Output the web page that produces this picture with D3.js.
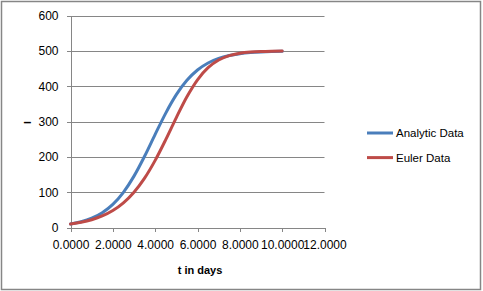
<!DOCTYPE html>
<html>
<head>
<meta charset="utf-8">
<style>
html, body { margin: 0; padding: 0; background: #fff; }
svg { display: block; font-family: "Liberation Sans", Arial, sans-serif; }
.grid line { stroke: #868686; stroke-width: 1; }
.axis path, .axis line { stroke: #868686; shape-rendering: crispEdges; }
.axis text { fill: #000; font-size: 12px; }
</style>
</head>
<body>
<script src="https://cdn.jsdelivr.net/npm/d3@7"></script>
<script>
var width = 483
var height = 291

// t in days, step 0.5
var tDays = [0, 0.5, 1, 1.5, 2, 2.5, 3, 3.5, 4, 4.5, 5, 5.5, 6, 6.5, 7, 7.5, 8, 8.5, 9, 9.5, 10]
var analytic = [10, 16.3, 26.3, 41.9, 65.5, 99.6, 145.4, 201.6, 263.5, 323.8, 375.9, 416.6, 445.8, 465.7, 478.6, 486.8, 491.9, 495.1, 497.0, 498.2, 498.9]
var euler = [10, 14.9, 22.1, 32.7, 48.0, 69.7, 99.7, 139.6, 189.9, 248.7, 311.2, 370.0, 418.1, 452.3, 473.9, 486.3, 492.9, 496.4, 498.2, 499.1, 499.5]

var xTicks = [0, 2, 4, 6, 8, 10, 12]
var yTicks = [0, 100, 200, 300, 400, 500, 600]

var series = [
    { name: 'Analytic Data', values: analytic, color: '#4a7ebb' },
    { name: 'Euler Data', values: euler, color: '#be4b48' }
]

var svg = d3.select('body').append('svg')
    .attr('width', width)
    .attr('height', height)

// outer chart border
svg.append('rect')
    .attr('x', 1.5).attr('y', 1.5)
    .attr('width', 479).attr('height', 288)
    .attr('fill', '#fff')
    .attr('stroke', '#868686')
    .attr('stroke-width', 1.5)

var x = d3.scaleLinear().domain([0, 12]).range([70.5, 324.5])
var y = d3.scaleLinear().domain([0, 600]).range([227.5, 15.5])

// horizontal gridlines
svg.append('g').attr('class', 'grid')
    .selectAll('line')
    .data(yTicks.slice(1))
    .enter().append('line')
    .attr('x1', x(0)).attr('x2', x(12))
    .attr('y1', function (d) { return Math.round(y(d)) + 0.5 })
    .attr('y2', function (d) { return Math.round(y(d)) + 0.5 })

var yAxis = svg.append('g')
    .attr('class', 'axis')
    .attr('transform', 'translate(' + x(0) + ',0)')
    .call(d3.axisLeft(y).tickValues(yTicks).tickSize(4).tickPadding(8).tickSizeOuter(0).tickFormat(d3.format('d')))
yAxis.selectAll('text').attr('font-family', null).attr('font-size', null)

var xAxis = svg.append('g')
    .attr('class', 'axis')
    .attr('transform', 'translate(0,' + y(0) + ')')
    .call(d3.axisBottom(x).tickValues(xTicks).tickSize(4).tickPadding(9).tickSizeOuter(0).tickFormat(d3.format('.4f')))
xAxis.selectAll('text').attr('font-family', null).attr('font-size', null)
svg.selectAll('.axis').attr('font-family', null).attr('font-size', null)

// axis titles
svg.append('text')
    .attr('x', 200).attr('y', 274)
    .attr('text-anchor', 'middle')
    .attr('font-size', '11px')
    .attr('font-weight', 'bold')
    .text('t in days')

svg.append('text')
    .attr('x', 27.5).attr('y', 126.5)
    .attr('text-anchor', 'middle')
    .attr('font-size', '14px')
    .attr('font-weight', 'bold')
    .text('–')

var line = d3.line()
    .x(function (d, i) { return x(tDays[i]) })
    .y(function (d) { return y(d) })
    .curve(d3.curveMonotoneX)

svg.append('g').selectAll('path')
    .data(series)
    .enter().append('path')
    .attr('d', function (s) { return line(s.values) })
    .attr('fill', 'none')
    .attr('stroke', function (s) { return s.color })
    .attr('stroke-width', 3)
    .attr('stroke-linecap', 'round')

// legend
var legend = svg.append('g').selectAll('g')
    .data(series)
    .enter().append('g')
    .attr('transform', function (s, i) { return 'translate(367,' + (133 + i * 24.6) + ')' })

legend.append('line')
    .attr('x1', 0).attr('x2', 26)
    .attr('stroke', function (s) { return s.color })
    .attr('stroke-width', 3)

legend.append('text')
    .attr('x', 29).attr('y', 4)
    .attr('font-size', '11.5px')
    .text(function (s) { return s.name })
</script>
</body>
</html>
